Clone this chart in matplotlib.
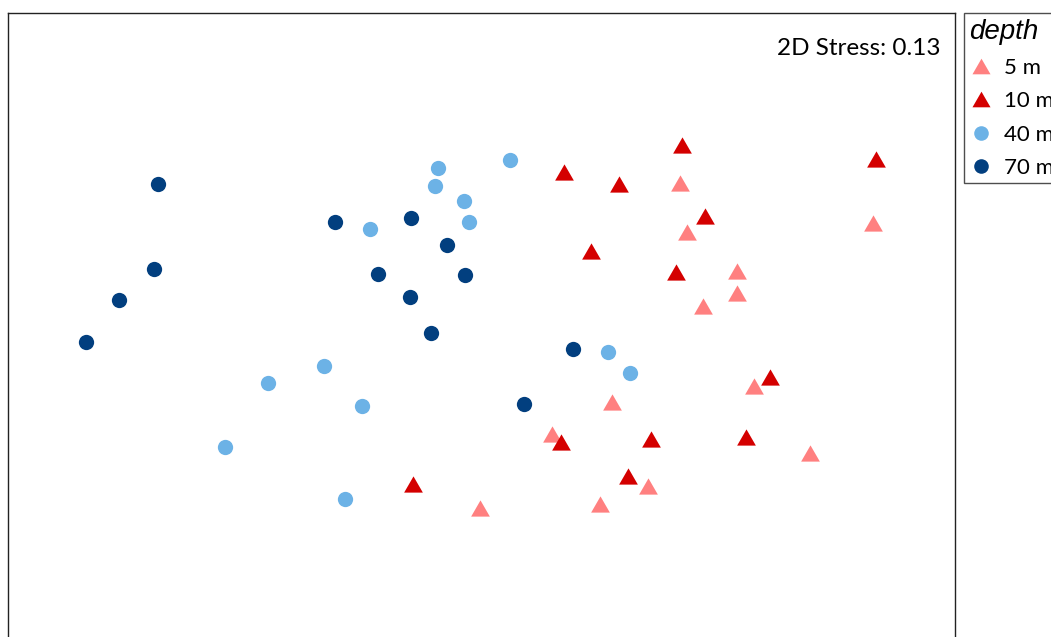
import matplotlib.pyplot as plt
from matplotlib.lines import Line2D
import numpy as np

# NMDS site scores grouped by sampling depth
nmds1_5m = [0.500, 0.983, 0.518, 0.643, 0.643, 0.558, 0.685, 0.330, 0.180, 0.825, 0.420, 0.300, 0.000]
nmds2_5m = [0.343, 0.243, 0.220, 0.123, 0.068, 0.035, -0.165, -0.205, -0.285, -0.333, -0.415, -0.460, -0.470]

nmds1_10m = [0.505, 0.990, 0.210, 0.348, 0.563, 0.278, 0.490, 0.725, 0.203, 0.428, 0.665, 0.370, -0.168]
nmds2_10m = [0.438, 0.403, 0.370, 0.340, 0.260, 0.173, 0.120, -0.143, -0.305, -0.298, -0.293, -0.390, -0.410]

nmds1_40m = [-0.105, 0.075, -0.113, -0.040, -0.028, -0.275, 0.320, 0.375, -0.390, -0.530, -0.295, -0.638, -0.338]
nmds2_40m = [0.380, 0.400, 0.335, 0.298, 0.245, 0.228, -0.080, -0.133, -0.115, -0.158, -0.215, -0.318, -0.448]

nmds1_70m = [-0.805, -0.815, -0.903, -0.985, -0.363, -0.173, -0.083, -0.255, -0.038, -0.175, -0.123, 0.233, 0.110]
nmds2_70m = [0.340, 0.128, 0.050, -0.055, 0.245, 0.255, 0.188, 0.115, 0.113, 0.058, -0.033, -0.073, -0.210]

depth_labels = ["5 m", "10 m", "40 m", "70 m"]
stress = 0.13

col_5m = "#ff8080"
col_10m = "#d40000"
col_40m = "#6cb2e6"
col_70m = "#023f7f"

# equilateral triangle, centred on its bounding box
tri = [(0, 0.866), (-1, -0.866), (1, -0.866), (0, 0.866)]

plt.rcParams['font.family'] = ['Lato', 'DejaVu Sans']

fig = plt.figure(figsize=(10.51, 6.37), dpi=100)
ax = fig.add_axes([8 / 1051, -30 / 637, 947 / 1051, 654 / 637])

tri_ms = 13.5
dot_ms = 11
ax.plot(nmds1_5m, nmds2_5m, ls="none", marker=tri, ms=tri_ms, color=col_5m, mew=0)
ax.plot(nmds1_10m, nmds2_10m, ls="none", marker=tri, ms=tri_ms, color=col_10m, mew=0)
ax.plot(nmds1_40m, nmds2_40m, ls="none", marker="o", ms=dot_ms, color=col_40m, mew=0)
ax.plot(nmds1_70m, nmds2_70m, ls="none", marker="o", ms=dot_ms, color=col_70m, mew=0)

ax.set_xlim(-1.18, 1.1875)
ax.set_ylim(-0.8675, 0.7675)
ax.set_xticks([])
ax.set_yticks([])
for sp in ax.spines.values():
    sp.set_linewidth(1.0)
    sp.set_color("#222222")

ax.text(0.985, 0.962, f"2D Stress: {stress}", transform=ax.transAxes,
        ha="right", va="top", fontsize=17.5)

# legend runs off the right edge of the figure
handles = [
    Line2D([], [], ls="none", marker=tri, ms=13, color=col_5m, mew=0),
    Line2D([], [], ls="none", marker=tri, ms=13, color=col_10m, mew=0),
    Line2D([], [], ls="none", marker="o", ms=10.5, color=col_40m, mew=0),
    Line2D([], [], ls="none", marker="o", ms=10.5, color=col_70m, mew=0),
]
leg = fig.legend(handles, depth_labels, loc="upper left",
                 bbox_to_anchor=(964 / 1051, 1 - 13 / 637),
                 frameon=True, fancybox=False, fontsize=16,
                 title="depth", title_fontproperties={"family": "Liberation Sans",
                                                      "style": "italic", "size": 20},
                 handlelength=1.0, handletextpad=0.55, labelspacing=0.6,
                 borderpad=0.25, borderaxespad=0)
leg.get_frame().set_edgecolor("#222222")
leg.get_frame().set_linewidth(1.0)
leg._legend_box.align = "left"

fig.savefig("out.png", dpi=100)
